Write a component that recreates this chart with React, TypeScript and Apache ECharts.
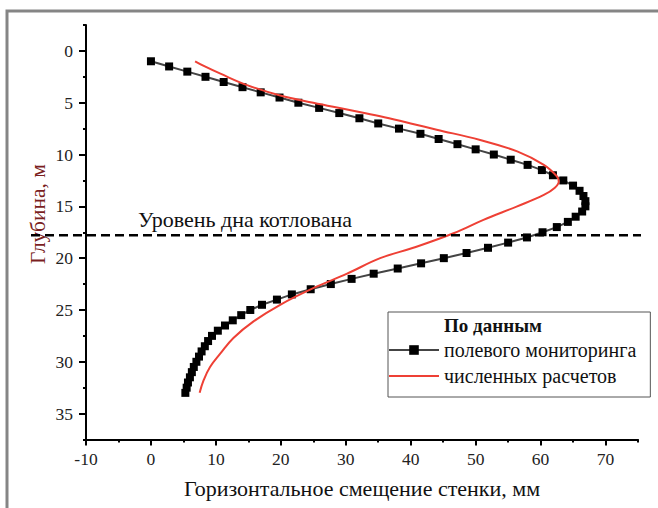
import React, { useEffect, useRef } from "react";
import * as echarts from "echarts";

// Полевой мониторинг: горизонтальное смещение (мм) и глубина (м)
const monitoringX = [
  0.0, 2.8, 5.6, 8.4, 11.2, 14.1, 16.9, 19.8, 22.7, 25.9, 29.0, 32.1, 35.0,
  38.2, 41.5, 44.3, 47.2, 50.0, 52.8, 55.4, 58.0, 60.2, 61.9, 63.5, 65.0,
  66.0, 66.6, 66.9, 66.9, 66.4, 65.4, 64.2, 62.5, 60.3, 57.9, 55.0, 51.9,
  48.6, 45.1, 41.6, 38.0, 34.3, 30.9, 27.7, 24.6, 21.7, 19.4, 17.1, 15.3,
  13.9, 12.6, 11.4, 10.3, 9.4, 8.8, 8.3, 7.8, 7.4, 7.0, 6.6, 6.3, 6.0, 5.7,
  5.5, 5.3,
];
const monitoringDepth = [
  1.0, 1.5, 2.0, 2.5, 3.0, 3.5, 4.0, 4.5, 5.0, 5.5, 6.0, 6.5, 7.0, 7.5, 8.0,
  8.5, 9.0, 9.5, 10.0, 10.5, 11.0, 11.5, 12.0, 12.5, 13.0, 13.5, 14.0, 14.5,
  15.0, 15.5, 16.0, 16.5, 17.0, 17.5, 18.0, 18.5, 19.0, 19.5, 20.0, 20.5,
  21.0, 21.5, 22.0, 22.5, 23.0, 23.5, 24.0, 24.5, 25.0, 25.5, 26.0, 26.5,
  27.0, 27.5, 28.0, 28.5, 29.0, 29.5, 30.0, 30.5, 31.0, 31.5, 32.0, 32.5,
  33.0,
];

// Численные расчеты
const calcX = [
  6.8, 8.3, 10.7, 14.8, 19.9, 25.0, 30.2, 35.3, 40.0, 44.0, 50.7, 56.4, 60.5,
  62.5, 62.8, 62.2, 60.5, 56.4, 51.2, 46.6, 40.4, 35.3, 30.2, 25.0, 19.9,
  15.8, 12.7, 10.7, 9.1, 8.1, 7.5,
];
const calcDepth = [
  1.0, 1.5, 2.2, 3.3, 4.3, 5.0, 5.65, 6.3, 7.0, 7.6, 8.6, 9.7, 11.0, 12.1,
  12.6, 13.2, 13.9, 15.0, 16.3, 17.6, 19.0, 20.0, 21.5, 22.9, 24.5,
  26.1, 27.7, 29.2, 30.5, 31.8, 33.0,
];

const pitLevel = 17.8;
const xMajorTicks = [-10, 0, 10, 20, 30, 40, 50, 60, 70];
const xMinorTicks = [-5, 5, 15, 25, 35, 45, 55, 65, 75];
const yMajorTicks = [0, 5, 10, 15, 20, 25, 30, 35];
const yMinorTicks = [-2.5, 2.5, 7.5, 12.5, 17.5, 22.5, 27.5, 32.5, 37.5];

const seriesNames = ["полевого мониторинга", "численных расчетов"];
const legendTitle = "По данным";
const levelLabel = "Уровень дна котлована";
const xName = "Горизонтальное смещение стенки, мм";
const yName = "Глубина, м";

const FONT = "Liberation Serif";

export default function App() {
  const ref = useRef<HTMLDivElement>(null);
  useEffect(() => {
    if (!ref.current) return;
    const chart = echarts.init(ref.current, null, { renderer: "svg" });
    const monData = monitoringX.map((x, i) => [x, monitoringDepth[i]]);
    const calcData = calcX.map((x, i) => [x, calcDepth[i]]);
    const axisCommon = {
      type: "value",
      splitLine: { show: false },
    };
    const option: any = {
      animation: false,
      backgroundColor: "#fff",
      textStyle: { fontFamily: FONT },
      grid: {
        left: 86,
        right: 20,
        top: 25,
        bottom: 68.5,
        containLabel: false,
        outerBoundsMode: "none",
      },
      xAxis: [
        {
          ...axisCommon,
          min: -10,
          max: 75,
          position: "bottom",
          axisLine: {
            show: true,
            onZero: false,
            lineStyle: { color: "#000", width: 2 },
          },
          axisTick: {
            show: true,
            length: 6,
            customValues: xMajorTicks,
            lineStyle: { color: "#000", width: 2 },
          },
          axisLabel: {
            customValues: xMajorTicks,
            margin: 10,
            color: "#222",
            fontFamily: FONT,
            fontSize: 17.5,
          },
          name: xName,
          nameLocation: "middle",
          nameGap: 38,
          nameTextStyle: { color: "#111", fontFamily: FONT, fontSize: 22 },
        },
        {
          ...axisCommon,
          min: -10,
          max: 75,
          position: "bottom",
          axisLine: { show: false, onZero: false },
          axisTick: {
            show: true,
            length: 3,
            customValues: xMinorTicks,
            lineStyle: { color: "#000", width: 2 },
          },
          axisLabel: { show: false },
        },
      ],
      yAxis: [
        {
          ...axisCommon,
          min: -2.5,
          max: 37.5,
          inverse: true,
          position: "left",
          axisLine: {
            show: true,
            onZero: false,
            lineStyle: { color: "#000", width: 2 },
          },
          axisTick: {
            show: true,
            length: 7,
            customValues: yMajorTicks,
            lineStyle: { color: "#000", width: 2 },
          },
          axisLabel: {
            customValues: yMajorTicks,
            margin: 13,
            color: "#222",
            fontFamily: FONT,
            fontSize: 17.5,
          },
        },
        {
          ...axisCommon,
          min: -2.5,
          max: 37.5,
          inverse: true,
          position: "left",
          axisLine: { show: false, onZero: false },
          axisTick: {
            show: true,
            length: 3,
            customValues: yMinorTicks,
            lineStyle: { color: "#000", width: 2 },
          },
          axisLabel: { show: false },
        },
      ],
      legend: {
        show: true,
        orient: "vertical",
        left: 388,
        top: 312,
        itemWidth: 50,
        itemHeight: 12,
        itemGap: 6,
        padding: [28, 14, 11, 0],
        borderColor: "#555",
        borderWidth: 1,
        backgroundColor: "#fff",
        textStyle: { fontFamily: FONT, fontSize: 20, color: "#111" },
        data: seriesNames,
      },
      series: [
        {
          name: seriesNames[0],
          type: "line",
          xAxisIndex: 0,
          yAxisIndex: 0,
          data: monData,
          symbol: "rect",
          symbolSize: 8,
          itemStyle: { color: "#000" },
          lineStyle: { color: "#444", width: 2 },
          z: 3,
        },
        {
          name: seriesNames[1],
          type: "line",
          xAxisIndex: 0,
          yAxisIndex: 0,
          data: calcData,
          smooth: 0.4,
          symbol: "none",
          itemStyle: { color: "#EE4035", opacity: 0 },
          lineStyle: { color: "#EE4035", width: 2, opacity: 1 },
          z: 4,
        },
      ],
    };
    chart.setOption(option);

    const yLevel = chart.convertToPixel({ yAxisIndex: 0 }, pitLevel) as number;
    const xRight = chart.convertToPixel({ xAxisIndex: 0 }, 75) as number;

    chart.setOption({
      graphic: [
        {
          type: "rect",
          silent: true,
          shape: { x: 7, y: 11, width: 800, height: 700 },
          style: { fill: "none", stroke: "#858585", lineWidth: 3 },
        },
        {
          type: "line",
          silent: true,
          shape: { x1: 31, y1: yLevel, x2: xRight + 3, y2: yLevel },
          style: { stroke: "#000", lineWidth: 2.5, lineDash: [9, 5] },
          z: 10,
        },
        {
          type: "text",
          silent: true,
          x: 138,
          y: yLevel - 5,
          style: {
            text: levelLabel,
            fontFamily: FONT,
            fontSize: 22,
            fill: "#111",
            textVerticalAlign: "bottom",
          },
        },
        {
          type: "text",
          silent: true,
          x: 38,
          y: 214,
          rotation: Math.PI / 2,
          style: {
            text: yName,
            fontFamily: FONT,
            fontSize: 21.5,
            fill: "#7a1f1f",
            textAlign: "center",
            textVerticalAlign: "middle",
          },
        },
        {
          type: "text",
          silent: true,
          x: 493,
          y: 325,
          z: 100,
          style: {
            text: legendTitle,
            fontFamily: FONT,
            fontSize: 19,
            fontWeight: "bold",
            fill: "#111",
            textAlign: "center",
            textVerticalAlign: "middle",
          },
        },
      ],
    });

    return () => chart.dispose();
  }, []);
  return (
    <div
      ref={ref}
      style={{ position: "absolute", left: 0, top: 0, width: 658, height: 508 }}
    />
  );
}
